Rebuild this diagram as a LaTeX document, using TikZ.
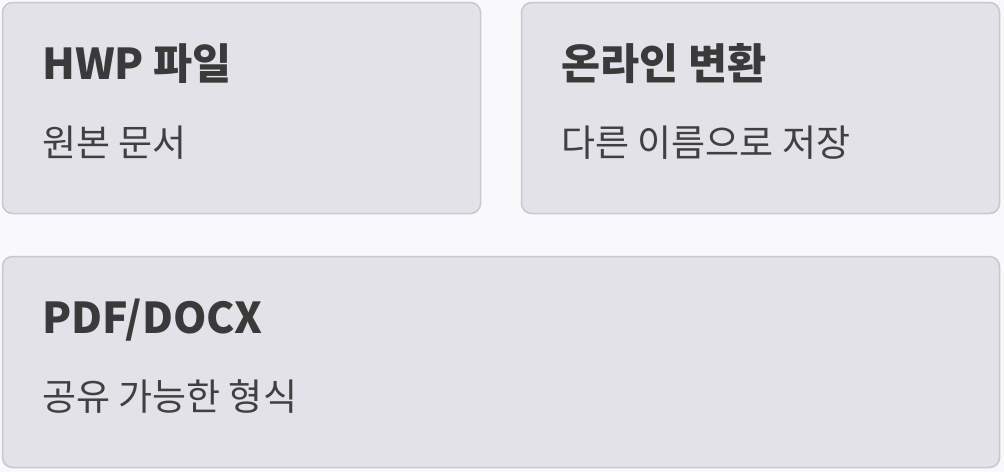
\documentclass[tikz,border=0pt]{standalone}
\usepackage{fontspec}
\setmainfont{Noto Sans CJK KR}
\newfontfamily\kr{Noto Sans CJK KR}
\begin{document}
\begin{tikzpicture}[x=1pt,y=-1pt,
  card/.style={draw=cardline,fill=cardfill,line width=1.5pt,rounded corners=10pt},
  ttl/.style={anchor=base west,inner sep=0pt,text=txt,font=\kr\fontsize{42.5}{46}\selectfont\bfseries},
  sub/.style={anchor=base west,inner sep=0pt,text=txt2,font=\kr\fontsize{37}{42}\selectfont}]
\definecolor{bg}{HTML}{F9F9FB}
\definecolor{cardfill}{HTML}{E2E2E8}
\definecolor{cardline}{HTML}{C8C8CD}
\definecolor{txt}{HTML}{3A3A3A}
\definecolor{txt2}{HTML}{404040}
\fill[bg] (0,0) rectangle (1004,472);
\useasboundingbox (0,0) rectangle (1004,472);
\draw[card] (2.5,2.5) rectangle (480.5,213.5);
\draw[card] (521.5,2.5) rectangle (999.5,213.5);
\draw[card] (2.5,256.5) rectangle (999.5,467.5);
\node[ttl] (t1) at (42,79) {HWP 파일};
\node[sub] (s1) at (42,156) {원본 문서};
\node[ttl] (t2) at (561,79) {온라인 변환};
\node[sub] (s2) at (561,156) {다른 이름으로 저장};
\node[ttl] (t3) at (42,333) {PDF/DOCX};
\node[sub] (s3) at (42,410) {공유 가능한 형식};
\end{tikzpicture}
\end{document}
